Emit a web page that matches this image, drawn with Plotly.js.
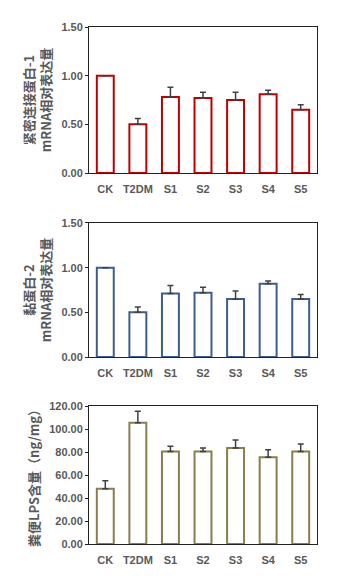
<!DOCTYPE html>
<html>
<head>
<meta charset="utf-8">
<script src="https://cdn.plot.ly/plotly-3.0.1.min.js"></script>
<style>html,body{margin:0;padding:0;background:#fff;}#chart{width:358px;height:581px;}</style>
</head>
<body>
<div id="chart"></div>
<script>
const categories = ["CK", "T2DM", "S1", "S2", "S3", "S4", "S5"];
const tjp1Mean = [1.00, 0.50, 0.78, 0.77, 0.75, 0.81, 0.65];
const tjp1Err  = [0.00, 0.06, 0.10, 0.06, 0.08, 0.04, 0.05];
const muc2Mean = [1.00, 0.50, 0.71, 0.72, 0.65, 0.82, 0.65];
const muc2Err  = [0.00, 0.06, 0.09, 0.06, 0.09, 0.03, 0.05];
const lpsMean  = [48.0, 105.5, 80.5, 80.5, 83.5, 75.5, 80.5];
const lpsErr   = [7.0, 10.0, 4.5, 3.0, 7.0, 6.5, 6.5];
const zeros = categories.map(() => 0);

const FONT = "Liberation Sans, Noto Sans CJK SC, sans-serif";
const TFONT = "Noto Sans CJK SC, Liberation Sans, sans-serif";
const TXT = "#595959";

function barTrace(y, err, color, xa, ya) {
  return {
    type: "bar", x: categories, y: y, xaxis: xa, yaxis: ya,
    marker: {color: "#ffffff", line: {color: color, width: 2}},
    error_y: {type: "data", symmetric: false, array: err, arrayminus: zeros,
              color: "#404040", thickness: 1.5, width: 3},
    showlegend: false, hoverinfo: "skip"
  };
}

const data = [
  barTrace(tjp1Mean, tjp1Err, "#c00000", "x", "y"),
  barTrace(muc2Mean, muc2Err, "#3a5f8f", "x2", "y2"),
  barTrace(lpsMean, lpsErr, "#8b7d4b", "x3", "y3")
];

function xAxis(anchor) {
  return {anchor: anchor, domain: [0, 1], showline: true, mirror: true, linecolor: "#222", linewidth: 1,
          ticks: "", ticklabelstandoff: 6, showgrid: false, zeroline: false, fixedrange: true,
          tickfont: {family: FONT, size: 11, color: TXT, weight: "bold"}};
}
function yAxis(anchor, domain, range, dtick, fmt, title) {
  return {anchor: anchor, domain: domain, range: range, dtick: dtick, tickformat: fmt,
          showline: true, mirror: true, linecolor: "#222", linewidth: 1,
          ticks: "outside", ticklen: 3, tickcolor: "#222", showgrid: false, zeroline: false,
          tickfont: {family: FONT, size: 11, color: TXT, weight: "bold"},
          title: {text: title, standoff: 6, font: {family: TFONT, size: 13, color: TXT, weight: "bold"}}};
}

const layout = {
  width: 358, height: 581,
  margin: {l: 89, r: 41, t: 27, b: 37},
  paper_bgcolor: "#fff", plot_bgcolor: "#fff",
  bargap: 0.48,
  xaxis: xAxis("y"),
  xaxis2: xAxis("y2"),
  xaxis3: xAxis("y3"),
  yaxis: yAxis("x", [0.7176, 1], [0, 1.5], 0.5, ".2f", "紧密连接蛋白-1<br>mRNA相对表达量"),
  yaxis2: yAxis("x2", [0.3617, 0.6209], [0, 1.5], 0.5, ".2f", "黏蛋白-2<br>mRNA相对表达量"),
  yaxis3: yAxis("x3", [0, 0.2669], [0, 120], 20, ".2f", "粪便LPS含量（ng/mg）")
};

Plotly.newPlot("chart", data, layout, {staticPlot: true});
</script>
</body>
</html>
